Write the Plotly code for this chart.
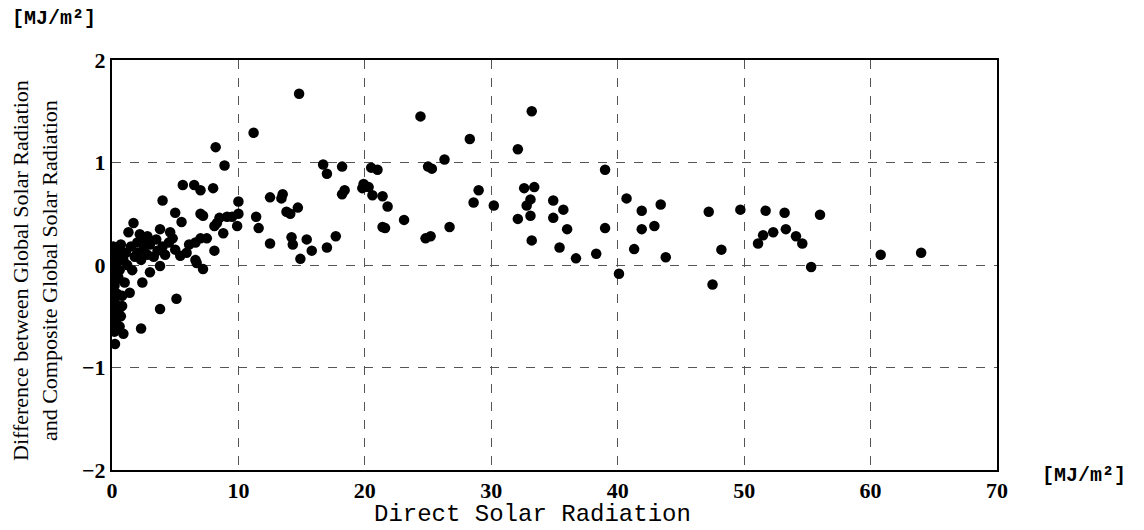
import plotly.graph_objects as go

# Direct solar radiation [MJ/m2]
direct = [
    14.8, 24.4, 33.2, 28.3, 32.1, 16.7, 17.0, 18.2, 20.5, 21.0, 25.0, 25.3, 26.3, 39.0,
    13.5, 13.8, 14.1, 14.7, 18.2, 18.4, 19.9, 19.8, 20.3, 20.6, 21.4, 21.8, 21.4, 21.6,
    23.1, 24.8, 25.2, 26.7, 29.0, 28.6, 30.2, 32.6, 33.4, 33.1, 32.8, 32.1, 33.1, 33.2,
    34.9, 35.7, 34.9, 36.0, 35.4, 36.7, 38.3, 39.0, 40.1, 40.7, 41.9, 41.9, 42.9, 43.4,
    41.3, 43.8, 14.2, 14.3, 15.4, 15.8, 14.9, 17.0, 17.7,
    47.2, 48.2, 47.5, 49.7, 51.7, 53.2, 56.0, 51.1, 51.5, 52.3, 53.3, 54.1, 54.6, 55.3,
    60.8, 64.0,
    11.2, 8.2, 8.9, 6.5, 7.0, 8.0, 10.0, 12.5, 13.4, 7.0, 7.2, 8.5, 9.1, 9.5, 10.0, 11.4,
    8.3, 8.1, 9.9, 8.8, 11.6, 12.5, 6.6, 7.0, 7.5, 8.1, 6.7, 7.2,
    0.1, 0.3, 0.2, 0.5, 0.1, 0.4, 0.2, 0.6, 0.1, 0.3, 0.5, 0.2, 0.1, 0.4, 0.2, 0.3,
    0.1, 0.5, 0.2, 0.4, 0.3, 0.6, 0.2, 0.9, 0.24, 0.8, 1.0, 1.4, 0.9, 1.1, 0.7, 1.2,
    0.8, 0.7,
    1.5, 2.0, 2.5, 3.0, 3.5, 4.0, 4.5, 5.0, 1.8, 2.3, 2.8, 3.3, 4.2, 1.3, 2.2, 2.8,
    1.7, 3.8, 4.6, 5.5, 5.0, 4.0, 5.6, 3.0, 3.8, 5.4, 6.6, 2.4, 2.3, 3.8, 5.1, 1.6,
    2.0, 6.1, 5.9, 4.8, 3.6, 2.6,
]

# Difference between global and composite global solar radiation [MJ/m2]
difference = [
    1.67, 1.45, 1.50, 1.23, 1.13, 0.98, 0.89, 0.96, 0.95, 0.93, 0.96, 0.94, 1.03, 0.93,
    0.69, 0.52, 0.50, 0.56, 0.69, 0.73, 0.79, 0.75, 0.76, 0.68, 0.67, 0.57, 0.37, 0.36,
    0.44, 0.26, 0.28, 0.37, 0.73, 0.61, 0.58, 0.75, 0.76, 0.64, 0.58, 0.45, 0.48, 0.24,
    0.63, 0.54, 0.46, 0.35, 0.17, 0.065, 0.11, 0.36, -0.085, 0.65, 0.53, 0.35, 0.38, 0.59,
    0.155, 0.075, 0.27, 0.20, 0.25, 0.14, 0.06, 0.17, 0.28,
    0.52, 0.15, -0.19, 0.54, 0.53, 0.51, 0.49, 0.21, 0.29, 0.32, 0.35, 0.28, 0.21, -0.02,
    0.10, 0.12,
    1.29, 1.15, 0.97, 0.78, 0.73, 0.75, 0.62, 0.66, 0.65, 0.50, 0.48, 0.46, 0.47, 0.47, 0.50, 0.47,
    0.41, 0.38, 0.38, 0.31, 0.36, 0.21, 0.22, 0.26, 0.26, 0.14, 0.02, -0.04,
    0.18, 0.15, 0.10, 0.12, 0.05, 0.02, -0.02, -0.05, -0.10, -0.15, -0.12, -0.20, -0.25, -0.28, -0.32, -0.38,
    -0.42, -0.45, -0.50, -0.52, -0.58, -0.60, -0.65, -0.67, -0.77, -0.30, -0.17, -0.27, 0.05, 0.12, 0.20, 0.00,
    -0.40, -0.50,
    0.18, 0.22, 0.15, 0.20, 0.25, 0.18, 0.22, 0.15, 0.08, 0.05, 0.10, 0.08, 0.10, 0.32, 0.30, 0.28,
    0.41, 0.35, 0.32, 0.42, 0.51, 0.63, 0.78, -0.07, -0.01, 0.09, 0.05, -0.17, -0.62, -0.43, -0.33, -0.05,
    0.12, 0.20, 0.12, 0.26, 0.14, 0.22,
]

x_ticks = [0, 10, 20, 30, 40, 50, 60, 70]
y_ticks = [-2, -1, 0, 1, 2]
unit_label = "[MJ/m²]"
x_title = "Direct Solar Radiation"
y_title = "Difference between Global Solar Radiation<br>and Composite Global Solar Radiation"

serif = "Liberation Serif, Times New Roman, serif"
mono = "Liberation Mono, Courier New, monospace"
tick_font = dict(family=serif, size=22, color="black", weight="bold")

# page offset of 8px (body margin) is compensated in margins
L, T, W, H = 104, 52, 885, 410

fig = go.Figure()
fig.add_trace(go.Scatter(
    x=direct, y=difference, mode="markers",
    marker=dict(color="black", size=10.5, line=dict(width=0)),
    showlegend=False,
))

fig.update_layout(
    width=1144, height=530,
    paper_bgcolor="white", plot_bgcolor="white",
    margin=dict(l=L, r=1144 - L - W, t=T, b=530 - T - H),
    xaxis=dict(
        range=[0, 70], tickvals=x_ticks, ticks="", ticklen=0,
        showgrid=True, gridcolor="#555", griddash="dash", gridwidth=1,
        showline=True, linecolor="black", linewidth=2, mirror=True,
        zeroline=False, tickfont=tick_font,
    ),
    yaxis=dict(
        range=[-2, 2], tickvals=y_ticks, ticks="", ticklen=0,
        showgrid=True, gridcolor="#555", griddash="dash", gridwidth=1,
        showline=True, linecolor="black", linewidth=2, mirror=True,
        zeroline=False, tickfont=tick_font,
    ),
    annotations=[
        dict(text=unit_label, xref="paper", yref="paper", x=0.0, y=1.0,
             xanchor="left", yanchor="middle", xshift=-102, yshift=42, showarrow=False,
             font=dict(family=mono, size=20, color="black", weight="bold")),
        dict(text=unit_label, xref="paper", yref="paper", x=1.0, y=0.0,
             xanchor="left", yanchor="middle", xshift=43, yshift=-5, showarrow=False,
             font=dict(family=mono, size=20, color="black", weight="bold")),
        dict(text=x_title, xref="paper", yref="paper", x=(532 - 112) / W, y=0.0,
             xanchor="center", yanchor="middle", yshift=-44, showarrow=False,
             font=dict(family=mono, size=24, color="black")),
        dict(text=y_title, xref="paper", yref="paper", x=0.0, y=0.5,
             xanchor="center", yanchor="middle", xshift=-77, yshift=-6, showarrow=False,
             textangle=-90,
             font=dict(family=serif, size=22, color="black")),
    ],
)

fig.write_html("out.html")
